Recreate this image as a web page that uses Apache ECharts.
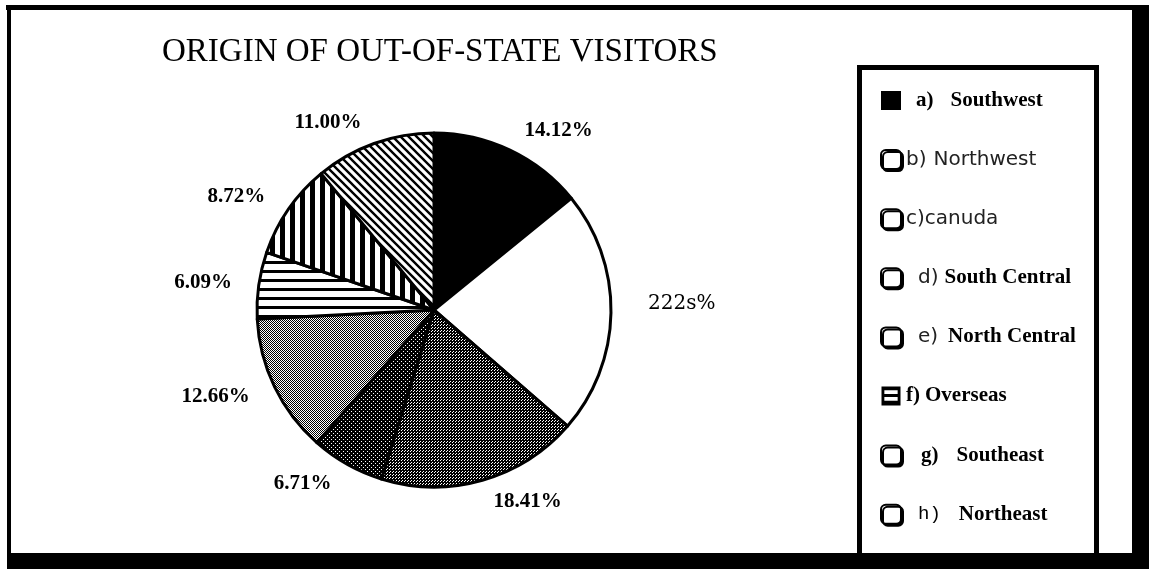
<!DOCTYPE html>
<html>
<head>
<meta charset="utf-8">
<script src="https://cdn.jsdelivr.net/npm/echarts@6/dist/echarts.min.js"></script>
<style>
  html, body { margin: 0; padding: 0; background: #fff; }
  #chart { width: 1149px; height: 569px; }
</style>
</head>
<body>
<div id="chart"></div>
<script>
// Regions of origin, clockwise from twelve o'clock
const categories = ['Southwest', 'Northwest', 'canuda', 'South Central', 'North Central', 'Overseas', 'Southeast', 'Northeast'];
// Share of out-of-state visitors, percent
const shares = [14.12, 22.25, 18.41, 6.71, 12.66, 6.09, 8.72, 11.00];
// Printed slice labels
const sliceLabels = ['14.12%', '222s%', '18.41%', '6.71%', '12.66%', '6.09%', '8.72%', '11.00%'];
// Legend letter prefixes
const legendPrefixes = ['a)', 'b)', 'c)', 'd)', 'e)', 'f)', 'g)', 'h)'];

// Typeface and spacing of each legend entry
const prefixFace = ['serifB', 'sans', 'sans', 'sans', 'sans', 'serifB', 'serifB', 'mono'];
const nameFace = ['serifB', 'sans', 'sans', 'serifB', 'serifB', 'serifB', 'serifB', 'serifB'];
const prefixIndent = [10, 0, 0, 12, 12, 0, 15, 12];
const prefixGap = [17, 7, 0, 6, 10, 5, 18, 18];

// Hatch fills for the slices
function tile(w, h, draw) {
  const c = document.createElement('canvas');
  c.width = w; c.height = h;
  const ctx = c.getContext('2d');
  ctx.fillStyle = '#fff';
  ctx.fillRect(0, 0, w, h);
  ctx.fillStyle = '#000';
  ctx.strokeStyle = '#000';
  draw(ctx);
  return { image: c, repeat: 'repeat' };
}
function whiteDots(ctx, w, h, dots) {
  ctx.fillRect(0, 0, w, h);
  ctx.fillStyle = '#fff';
  dots.forEach(([x, y]) => ctx.fillRect(x, y, 1, 1));
}
const fineDots = tile(3, 3, ctx => whiteDots(ctx, 3, 3, [[0, 0], [2, 1]]));
const coarseDots = tile(4, 4, ctx => whiteDots(ctx, 4, 4, [[1, 1], [3, 3]]));
const checker = tile(2, 2, ctx => { ctx.fillRect(0, 0, 1, 1); ctx.fillRect(1, 1, 1, 1); });
const hStripes = tile(4, 9, ctx => { ctx.fillRect(0, 0, 4, 3); });
const vStripes = tile(10, 4, ctx => { ctx.fillRect(0, 0, 5, 4); });
const diagStripes = tile(8, 8, ctx => {
  ctx.lineWidth = 2.4;
  ctx.beginPath();
  for (const k of [-8, 0, 8]) { ctx.moveTo(k - 1, -1); ctx.lineTo(k + 9, 9); }
  ctx.stroke();
});
const sliceFills = ['#000', '#fff', fineDots, coarseDots, checker, hStripes, vStripes, diagStripes];

// Legend swatches: one solid, one striped, the rest empty boxes with a drop shadow
const boxStyle = { color: '#fff', borderColor: '#000', borderWidth: 2, shadowColor: '#000', shadowOffsetX: 2, shadowOffsetY: 2, shadowBlur: 0 };
const stripedBox = 'path://M0,0 H20 V20 H0 Z M3,4 V8 H17 V4 Z M3,11 V15 H17 V11 Z';

const faces = {
  serifB: { fontFamily: 'Liberation Serif', fontWeight: 'bold', fontSize: 21, color: '#000', lineHeight: 20 },
  sans: { fontFamily: 'DejaVu Sans', fontWeight: 'normal', fontSize: 20, color: '#222', lineHeight: 20 },
  mono: { fontFamily: 'Liberation Mono', fontWeight: 'normal', fontSize: 19, color: '#000', lineHeight: 20 }
};
const rich = {};
categories.forEach((c, i) => {
  rich['p' + i] = Object.assign({}, faces[prefixFace[i]], { padding: [0, prefixGap[i], 0, prefixIndent[i]] });
  rich['n' + i] = Object.assign({}, faces[nameFace[i]]);
});

const legendData = categories.map((name, i) => {
  if (i === 0) return { name, icon: 'rect', itemStyle: { color: '#000', borderWidth: 0, shadowOffsetX: 0, shadowOffsetY: 0 } };
  if (i === 5) return { name, icon: stripedBox, itemStyle: { color: '#000', borderWidth: 0, shadowOffsetX: 0, shadowOffsetY: 0 } };
  return { name, icon: 'roundRect', itemStyle: boxStyle };
});

const chart = echarts.init(document.getElementById('chart'), null, { renderer: 'canvas' });
chart.setOption({
  animation: false,
  backgroundColor: '#fff',
  title: {
    text: 'ORIGIN OF OUT-OF-STATE VISITORS',
    left: 162, top: 36, padding: 0,
    textStyle: { fontFamily: 'Liberation Serif', fontWeight: 'normal', fontSize: 33, lineHeight: 33, color: '#000' }
  },
  legend: {
    orient: 'vertical',
    left: 880, top: 90, padding: 0,
    itemWidth: 20, itemHeight: 19, itemGap: 38.1,
    selectedMode: false,
    data: legendData,
    formatter: name => {
      const i = categories.indexOf(name);
      return '{p' + i + '|' + legendPrefixes[i] + '}{n' + i + '|' + name + '}';
    },
    textStyle: { rich }
  },
  graphic: [
    // page frame
    { type: 'rect', shape: { x: 6, y: 5, width: 1143, height: 5 }, style: { fill: '#000' } },
    { type: 'rect', shape: { x: 7, y: 5, width: 4, height: 550 }, style: { fill: '#000' } },
    { type: 'rect', shape: { x: 1132, y: 5, width: 17, height: 564 }, style: { fill: '#000' } },
    { type: 'rect', shape: { x: 7, y: 553, width: 1142, height: 16 }, style: { fill: '#000' } },
    // legend box
    { type: 'rect', shape: { x: 859.5, y: 67.5, width: 237, height: 500 }, style: { fill: null, stroke: '#000', lineWidth: 5 } }
  ],
  series: [{
    type: 'pie',
    center: [434, 310],
    radius: 177,
    startAngle: 90,
    clockwise: true,
    avoidLabelOverlap: false,
    silent: true,
    itemStyle: { borderColor: '#000', borderWidth: 3 },
    label: {
      position: 'outside',
      distanceToLabelLine: 5,
      fontFamily: 'Liberation Serif', fontWeight: 'bold', fontSize: 21, color: '#000',
      formatter: p => sliceLabels[p.dataIndex]
    },
    labelLine: { show: false, length: 22, length2: 0 },
    // the right-hand label sits a little above and beyond the slice's mid-line
    labelLayout: p => (p.dataIndex === 1 ? { dx: 10, dy: -9 } : {}),
    data: categories.map((name, i) => {
      const d = { name, value: shares[i], itemStyle: { color: sliceFills[i] } };
      if (i === 1) d.label = { fontFamily: 'DejaVu Serif', fontWeight: 'normal', fontSize: 20 };
      return d;
    })
  }]
});
</script>
</body>
</html>
